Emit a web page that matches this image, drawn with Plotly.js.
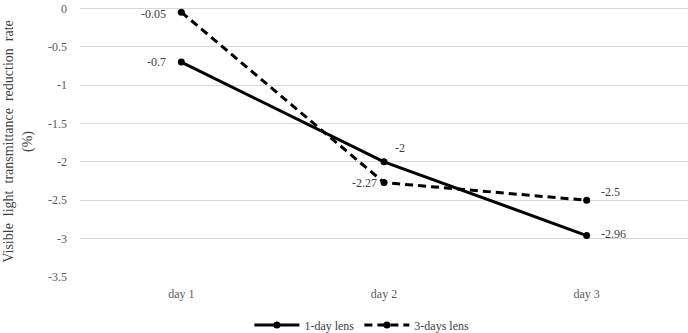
<!DOCTYPE html>
<html><head><meta charset="utf-8">
<script src="https://cdn.plot.ly/plotly-3.0.1.min.js"></script>
<style>html,body{margin:0;padding:0;background:#fff}#c{width:688px;height:333px}</style>
</head><body><div id="c"></div>
<script>
const categories = ['day 1', 'day 2', 'day 3'];
const series1Name = '1-day lens';
const series1 = [-0.7, -2, -2.96];
const series2Name = '3-days lens';
const series2 = [-0.05, -2.27, -2.5];
const yTicks = [0, -0.5, -1, -1.5, -2, -2.5, -3, -3.5];

const font = 'Liberation Serif';
const traces = [
  {x: categories, y: series1, name: series1Name, type: 'scatter', mode: 'lines+markers',
   line: {color: '#000', width: 3}, marker: {color: '#000', size: 7}},
  {x: categories, y: series2, name: series2Name, type: 'scatter', mode: 'lines+markers',
   line: {color: '#000', width: 3, dash: '8px,5px'}, marker: {color: '#000', size: 7}}
];
// label placement offsets (styling only)
const off1 = [{xa: 'right', xs: -13, ys: 0}, {xa: 'left', xs: 9, ys: 14}, {xa: 'left', xs: 12, ys: 2}];
const off2 = [{xa: 'right', xs: -13, ys: -2}, {xa: 'right', xs: -5, ys: 0}, {xa: 'left', xs: 12, ys: 8}];
const annotations = [];
[[series1, off1], [series2, off2]].forEach(([s, off]) => {
  s.forEach((v, i) => annotations.push({x: categories[i], y: v, xref: 'x', yref: 'y', text: String(v),
    showarrow: false, xanchor: off[i].xa, yanchor: 'middle', xshift: off[i].xs, yshift: off[i].ys,
    font: {family: font, size: 12, color: '#404040'}}));
});
const sp = '&nbsp;&nbsp;';
const layout = {
  width: 688, height: 333,
  margin: {l: 80, r: 0, t: 6, b: 56},
  paper_bgcolor: '#fff', plot_bgcolor: '#fff',
  font: {family: font, size: 12, color: '#595959'},
  showlegend: true,
  annotations: annotations,
  legend: {orientation: 'h', xref: 'container', yref: 'container', x: 0.526, y: 0.024,
           xanchor: 'center', yanchor: 'middle', itemwidth: 45, font: {family: font, size: 12, color: '#404040'}},
  xaxis: {type: 'category', range: [-0.5, 2.5], showgrid: false, zeroline: false, showline: false, ticks: '',
          ticklabelstandoff: 8, tickfont: {family: font, size: 12, color: '#595959'}},
  yaxis: {range: [-3.5, 0.03], tickvals: yTicks, ticktext: yTicks.map(String), showgrid: true,
          gridcolor: '#d9d9d9', gridwidth: 1, zeroline: false,
          showline: false, ticks: '',
          ticklabelstandoff: 12, tickfont: {family: font, size: 12, color: '#595959'},
          title: {text: 'Visible' + sp + 'light' + sp + 'transmittance' + sp + 'reduction' + sp + 'rate<br>(%)', standoff: 12,
                  font: {family: font, size: 14, color: '#404040'}}}
};
Plotly.newPlot('c', traces, layout, {displayModeBar: false, staticPlot: true});
</script></body></html>
